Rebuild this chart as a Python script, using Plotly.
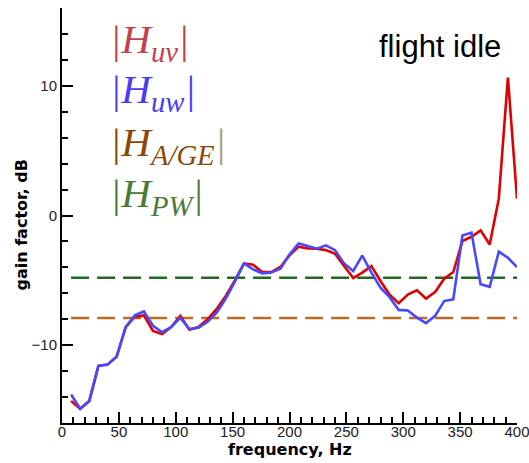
import plotly.graph_objects as go

# ---- data ----
freq_hz = [8, 16, 24, 32, 40, 48, 56, 64, 72, 80,
           88, 96, 104, 112, 120, 128, 136, 144, 152, 160,
           168, 176, 184, 192, 200, 208, 216, 224, 232, 240,
           248, 256, 264, 272, 280, 288, 296, 304, 312, 320,
           328, 336, 344, 352, 360, 368, 376, 384, 392, 400]

h_uv_db = [-14.3, -14.9, -14.3, -11.6, -11.5, -10.9, -8.6, -7.8, -7.7, -8.9,
           -9.15, -8.6, -7.75, -8.8, -8.6, -8.0, -7.2, -6.2, -5.0, -3.7,
           -3.8, -4.35, -4.36, -3.97, -3.08, -2.4, -2.54, -2.56, -2.67, -2.95,
           -3.9, -4.82, -4.4, -3.9, -5.05, -6.1, -6.77, -6.1, -5.77, -6.4,
           -5.9, -4.87, -4.36, -1.97, -1.64, -1.15, -2.23, 1.3, 10.64, 1.3]

h_uw_db = [-13.8, -14.9, -14.3, -11.6, -11.5, -10.9, -8.6, -7.7, -7.4, -8.5,
           -9.0, -8.6, -7.9, -8.75, -8.65, -8.2, -7.5, -6.4, -5.1, -3.7,
           -4.15, -4.46, -4.4, -4.1, -3.0, -2.15, -2.36, -2.56, -2.3, -2.67,
           -3.7, -4.28, -3.1, -4.4, -5.56, -6.3, -7.28, -7.33, -7.87, -8.3,
           -7.74, -6.6, -6.46, -1.54, -1.33, -5.3, -5.5, -2.79, -3.26, -3.97]

h_pw_level_db = -4.8
h_age_level_db = -7.9

x_ticks = [0, 50, 100, 150, 200, 250, 300, 350, 400]
y_ticks = [-10, 0, 10]

# ---- styles ----
RED = "#e00000"
BLUE = "#4848ff"
GREEN = "#1e6b1e"
BROWN = "#c06a1e"

fig = go.Figure()

fig.add_trace(go.Scatter(x=[freq_hz[0], freq_hz[-1]], y=[h_age_level_db, h_age_level_db],
                         mode="lines", line=dict(color=BROWN, width=2.5, dash="18px,8px"),
                         showlegend=False, hoverinfo="skip", cliponaxis=False))
fig.add_trace(go.Scatter(x=[freq_hz[0], freq_hz[-1]], y=[h_pw_level_db, h_pw_level_db],
                         mode="lines", line=dict(color=GREEN, width=2.5, dash="18px,8px"),
                         showlegend=False, hoverinfo="skip", cliponaxis=False))
fig.add_trace(go.Scatter(x=freq_hz, y=h_uv_db, mode="lines",
                         line=dict(color=RED, width=2.6), name="|H_uv|", showlegend=False,
                         cliponaxis=False))
fig.add_trace(go.Scatter(x=freq_hz, y=h_uw_db, mode="lines",
                         line=dict(color=BLUE, width=2.6), name="|H_uw|", showlegend=False,
                         cliponaxis=False))

# legend-like labels
BAR = "<span style='color:%s'>|</span>"
legend_items = [
    ("uv", "#c4404a", "#c4404a"),
    ("uw", "#4a3cf5", "#4a3cf5"),
    ("A/GE", "#8a4708", "#ac9e84"),
    ("PW", "#4a7a3a", "#4a7a3a"),
]
label_y = [0.919, 0.797, 0.671, 0.548]
for (sub, col, barcol), yy in zip(legend_items, label_y):
    txt = "<i>" + BAR % col + "H<sub>" + sub + "</sub>" + BAR % barcol + "</i>"
    fig.add_annotation(text=txt, xref="paper", yref="paper", x=0.101, y=yy,
                       xanchor="left", yanchor="middle", showarrow=False,
                       font=dict(family="Liberation Serif", size=41, color=col))

fig.add_annotation(text="flight idle", xref="paper", yref="paper", x=0.831, y=0.908,
                   xanchor="center", yanchor="middle", showarrow=False,
                   font=dict(family="Liberation Sans", size=31, color="#000"))

# axis titles
fig.add_annotation(text="<b>frequency, Hz</b>", xref="paper", yref="paper", x=0.5, y=-0.063,
                   xanchor="center", yanchor="middle", showarrow=False,
                   font=dict(family="DejaVu Sans", size=16, color="#000"))
fig.add_annotation(text="<b>gain factor, dB</b>", xref="paper", yref="paper", x=-0.089, y=0.477,
                   xanchor="center", yanchor="middle", showarrow=False, textangle=-90,
                   font=dict(family="DejaVu Sans", size=16, color="#000"))

axis_common = dict(
    showgrid=False, zeroline=False, showline=True, linecolor="#000", linewidth=2,
    ticks="inside", tickcolor="#000", tickwidth=2, ticklen=11,
    tickfont=dict(family="Liberation Sans", size=15, color="#222"),
    mirror=False, automargin=False, ticklabeloverflow="allow",
)

fig.update_xaxes(range=[0, 400], tickvals=x_ticks, ticklabelstandoff=-6,
                 minor=dict(dtick=10, ticks="inside", ticklen=6, tickcolor="#000", tickwidth=1.5),
                 **axis_common)
fig.update_yaxes(range=[-16, 16], tickvals=y_ticks,
                 minor=dict(dtick=2, ticks="inside", ticklen=6, tickcolor="#000", tickwidth=1.5),
                 **axis_common)

fig.update_layout(width=529, height=463,
                  margin=dict(l=62, r=12, t=8, b=40),
                  paper_bgcolor="white", plot_bgcolor="white",
                  showlegend=False)

# remove the default page margin so the figure fills the window exactly
fig.write_html("out.html", config={"displayModeBar": False},
               post_script="document.body.style.margin='0';document.body.style.overflow='hidden';")
